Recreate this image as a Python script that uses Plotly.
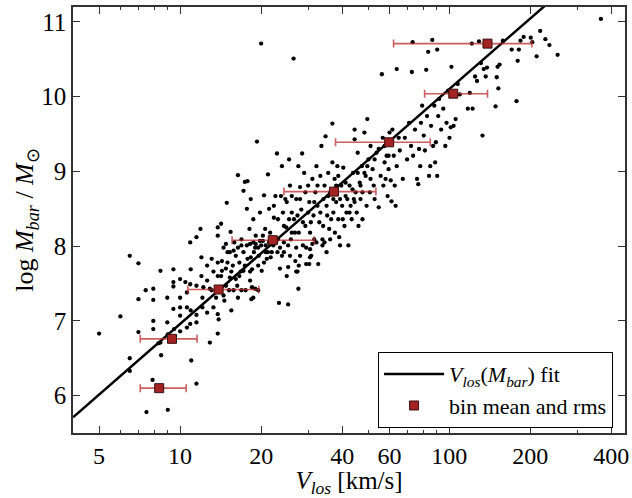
import plotly.graph_objects as go

# galaxies in groups of V_los [km/s] and log M_bar
v_outer = [5.0, 6.0, 6.5, 7.0, 7.0, 7.0, 6.5, 6.5, 7.9, 7.5, 9.0, 11.5, 11.0, 8.5]
m_outer = [6.83, 7.06, 7.87, 7.77, 7.29, 6.85, 6.50, 6.33, 6.21, 5.78, 5.81, 6.16, 6.47, 6.54]

v_low = [7.45, 7.95, 7.95, 7.95, 7.95,
         8.3, 8.45, 8.45, 8.96, 8.96,
         9.0, 9.44, 9.44, 9.44, 9.44,
         9.5, 10.0, 10.0, 10.0, 10.0,
         10.0, 10.46, 10.6, 10.6, 10.6,
         10.9, 10.9, 10.95, 10.95, 10.9]
m_low = [7.41, 7.43, 7.28, 7.0, 6.89,
         6.70, 7.67, 6.71, 7.31, 6.98,
         6.82, 7.69, 7.52, 7.46, 7.16,
         6.89, 7.56, 7.31, 7.18, 7.07,
         6.86, 7.52, 7.38, 7.18, 6.91,
         8.05, 7.49, 7.69, 7.14, 6.96]

v_small = [11.5, 11.5, 11.5, 11.5, 11.9,
           12.0, 12.0, 12.1, 12.1, 12.6,
           12.6, 12.6, 12.9, 13.1, 13.1,
           13.3, 13.3, 13.8, 13.8, 13.8,
           13.8, 13.8, 13.8, 13.9, 14.2,
           14.3, 14.3, 14.6, 14.9, 15.0,
           15.2, 15.3, 15.4, 15.5, 15.7,
           15.9, 16.1, 16.3, 16.4, 16.4]
m_small = [8.12, 7.47, 7.08, 6.98, 8.23,
           7.85, 7.60, 7.18, 7.31, 7.74,
           7.54, 7.11, 6.71, 7.83, 7.41,
           7.66, 7.18, 8.25, 8.14, 7.78,
           7.60, 7.09, 6.83, 7.02, 8.30,
           7.80, 7.67, 7.27, 8.58, 7.92,
           7.41, 7.58, 8.19, 7.14, 7.74,
           8.05, 7.87, 7.47, 8.95, 7.31]

v_mid = [16.8, 16.9, 17.2, 17.4, 17.7,
         17.8, 17.8, 18.1, 18.2, 18.3,
         18.4, 18.7, 18.8, 19.1, 19.3,
         19.5, 19.8, 20.0, 20.1, 20.3,
         20.5, 20.7, 20.8, 21.0, 21.2,
         21.4, 21.6, 21.9, 22.3, 22.6,
         22.9, 23.1, 23.3, 23.5, 23.9,
         24.1, 24.3, 24.6, 24.8, 24.9]
m_mid = [7.66, 8.01, 8.74, 8.86, 8.50,
         8.87, 7.83, 8.23, 7.54, 8.63,
         7.29, 8.36, 7.92, 8.14, 9.40,
         7.74, 8.45, 10.71, 7.67, 8.07,
         8.68, 8.23, 7.92, 7.83, 8.96,
         8.50, 8.18, 7.92, 8.38, 8.67,
         9.24, 8.09, 7.24, 7.70, 9.07,
         8.45, 7.92, 8.63, 8.25, 7.60]

v_upper = [25.2, 25.4, 25.6, 25.8, 26.0,
           26.4, 26.5, 26.8, 27.0, 27.3,
           27.5, 27.5, 27.6, 27.9, 28.2,
           28.4, 28.6, 28.9, 29.2, 29.4,
           29.9, 30.2, 30.4, 30.7, 31.0,
           31.3, 31.5, 31.8, 32.1, 32.4,
           32.6, 32.9, 33.2, 33.5, 33.8,
           34.1, 34.4, 34.7, 35.0, 35.2,
           35.5, 35.8, 36.1]
m_upper = [7.22, 9.16, 8.81, 8.09, 8.45,
           10.51, 8.36, 7.80, 8.63, 7.66,
           9.07, 7.43, 8.18, 8.79, 8.49,
           9.24, 8.01, 8.98, 8.27, 7.76,
           8.81, 8.59, 8.18, 7.87, 8.90,
           8.41, 8.09, 8.72, 9.07, 8.54,
           7.76, 8.32, 8.94, 9.34, 8.09,
           8.63, 8.81, 9.47, 7.92, 8.41,
           8.98, 8.23, 8.72]

v_high = [36.8, 36.8, 37.1, 37.5, 37.6,
          38.0, 38.4, 38.7, 39.0, 39.3,
          39.7, 40.0, 40.4, 40.8, 41.2,
          41.5, 42.2, 42.6, 43.0, 43.4,
          43.9, 44.2, 44.5, 44.5, 44.9,
          45.3, 45.7, 46.0, 46.5, 46.8,
          47.3, 47.6, 48.4, 48.9, 49.3,
          49.6, 50.1, 50.7]
m_high = [9.64, 9.12, 8.45, 8.90, 8.18,
          8.59, 9.07, 8.36, 8.12, 8.01,
          8.81, 8.54, 9.05, 8.27, 8.67,
          8.45, 8.01, 8.81, 8.54, 8.36,
          8.98, 8.63, 9.56, 9.43, 8.72,
          8.45, 9.25, 8.27, 8.85, 8.63,
          9.07, 8.36, 9.52, 8.94, 8.54,
          9.70, 9.16, 8.72]

v_big = [51.0, 51.9, 52.4, 52.8, 53.7,
         54.7, 55.6, 56.2, 56.6, 56.9,
         57.5, 58.0, 58.5, 59.0, 59.5,
         60.0, 60.6, 61.0, 61.5, 62.2,
         62.7, 63.2, 63.8, 63.8, 64.9,
         65.5, 67.2, 68.4, 69.7, 70.9,
         72.1, 72.6, 73.1, 73.4, 74.6,
         75.9, 76.7, 77.2, 78.0, 78.5,
         79.3, 80.4, 81.2, 82.1, 82.7,
         83.5, 84.1, 85.0, 85.6, 86.5,
         87.1, 88.0, 88.6, 89.2, 90.2,
         90.2, 91.0, 91.7, 93.3, 95.0]
m_big = [9.34, 9.03, 8.81, 8.63, 9.25,
         8.52, 8.94, 10.30, 9.45, 8.81,
         9.12, 8.90, 9.21, 8.67, 9.03,
         9.52, 8.88, 8.60, 9.56, 9.21,
         8.81, 8.54, 10.37, 9.07, 9.45,
         9.28, 8.90, 9.45, 9.16, 9.65,
         9.34, 10.33, 10.73, 9.21, 9.56,
         8.90, 8.83, 9.30, 9.07, 9.65,
         9.88, 9.48, 9.28, 10.36, 9.74,
         10.60, 8.94, 9.07, 9.61, 10.76,
         9.34, 9.88, 9.12, 9.39, 10.63,
         8.94, 9.74, 9.97, 9.56, 9.84]

v_giant = [96.7, 97.7, 99.1, 100.2, 101.3,
           101.9, 103.8, 105.6, 107.5, 109.4,
           117.2, 119.2, 121.3, 122.1, 124.7,
           126.8, 129.0, 131.1, 132.9, 134.3,
           136.6, 138.1, 148.6, 150.1, 151.2,
           152.2, 153.8, 158.2, 170.6, 177.8,
           179.6, 181.4, 183.9, 189.0, 200.8,
           203.5, 211.2, 217.7, 227.6, 235.6,
           252.7, 366.0]
m_giant = [9.34, 9.65, 10.08, 9.45, 9.59,
           10.40, 9.61, 9.70, 10.17, 10.03,
           9.84, 10.05, 10.71, 9.84, 10.27,
           10.21, 10.74, 10.45, 9.48, 10.37,
           10.27, 10.39, 9.87, 10.26, 10.40,
           10.11, 10.43, 10.75, 10.63, 9.94,
           10.48, 10.63, 10.75, 10.80, 10.79,
           10.73, 10.54, 10.88, 10.77, 10.69,
           10.56, 11.04]

v_core = [14.5, 14.8, 15.0, 15.3, 15.8,
          16.4, 16.6, 16.9, 17.2, 17.4,
          17.7, 18.2, 18.3, 18.5, 18.7,
          19.0, 19.1, 19.5, 19.6, 19.8,
          20.0, 20.3, 20.5, 20.8, 21.2,
          21.4, 21.7, 22.2, 22.7, 23.0,
          23.5, 23.9, 24.3, 25.2, 25.6,
          26.0, 27.0, 27.9, 29.4, 30.4,
          31.0, 32.1, 33.8, 34.4, 36.1]
m_core = [7.98, 8.03, 7.78, 7.92, 7.94,
          7.98, 7.78, 8.09, 7.92, 7.74,
          8.01, 8.03, 7.85, 7.69, 8.05,
          7.98, 8.03, 7.98, 7.87, 8.07,
          8.01, 8.14, 7.78, 8.01, 7.92,
          8.05, 7.85, 8.01, 8.05, 7.92,
          7.98, 7.87, 8.05, 8.01, 7.87,
          8.18, 7.98, 7.87, 7.98, 7.85,
          8.03, 8.05, 8.01, 8.05, 8.09]

v_band = [22.3, 23.1, 23.7, 24.3, 24.9,
          25.4, 26.0, 26.7, 27.3, 27.9,
          28.6, 29.2, 29.9, 30.6, 31.5,
          32.4, 33.2, 34.0, 35.0, 35.5,
          36.4, 37.1, 38.0, 38.7, 39.3,
          40.2, 41.2, 41.8, 42.6, 43.7,
          44.5, 45.7, 46.8, 47.6, 48.4,
          49.6, 51.0, 52.8, 54.7, 57.5,
          59.5]
m_band = [8.54, 8.36, 8.67, 8.27, 8.59,
          8.36, 8.67, 8.18, 8.41, 8.63,
          8.32, 8.72, 8.45, 8.32, 8.59,
          8.81, 8.45, 8.27, 8.54, 8.67,
          8.36, 8.63, 8.81, 8.94, 8.63,
          8.36, 8.85, 8.63, 8.45, 8.76,
          8.59, 8.98, 8.81, 8.72, 8.98,
          9.07, 8.90, 9.16, 9.30, 9.34,
          9.21]

v_faint = [12.2, 12.9, 13.6, 14.0, 14.5,
           14.8, 15.8, 16.9, 17.5, 18.5,
           18.7, 19.0, 19.5, 15.5, 16.1,
           16.6, 17.2, 18.2, 14.8, 14.2,
           27.0, 27.6, 30.2, 30.4, 25.2]
m_faint = [7.45, 7.43, 7.31, 7.43, 7.34,
           7.47, 7.41, 7.41, 7.41, 7.45,
           7.31, 7.43, 7.41, 7.66, 7.56,
           7.60, 7.67, 7.66, 7.70, 7.60,
           7.66, 7.74, 7.76, 7.96, 7.72]

# fit line V_los(M_bar)
fit_v = [4.0, 10.0, 100.0, 250.0]
fit_logm = [5.71, 6.96, 10.10, 11.35]

# binned means with rms range in V_los
bin_v = [8.36, 9.33, 13.9, 22.1, 37.3, 59.8, 103.5, 138.7]
bin_logm = [6.10, 6.76, 7.42, 8.08, 8.73, 9.39, 10.04, 10.71]
bin_v_lo = [7.11, 7.11, 10.68, 15.6, 24.3, 37.8, 81.0, 62.1]
bin_v_hi = [10.53, 11.56, 19.6, 31.5, 53.4, 85.0, 138.7, 202.7]

all_v = v_outer + v_low + v_small + v_mid + v_upper + v_high + v_big + v_giant + v_core + v_band + v_faint
all_m = m_outer + m_low + m_small + m_mid + m_upper + m_high + m_big + m_giant + m_core + m_band + m_faint

err_plus = [hi - v for hi, v in zip(bin_v_hi, bin_v)]
err_minus = [v - lo for lo, v in zip(bin_v_lo, bin_v)]

FONT = "Liberation Serif"

fig = go.Figure()
fig.add_trace(go.Scatter(x=all_v, y=all_m, mode='markers', showlegend=False,
                         marker=dict(color='black', size=4.3)))
fig.add_trace(go.Scatter(x=fit_v, y=fit_logm, mode='lines',
                         name='<i>V</i><sub><i>los</i></sub>(<i>M</i><sub><i>bar</i></sub>) fit',
                         line=dict(color='black', width=2.5)))
fig.add_trace(go.Scatter(x=bin_v, y=bin_logm, mode='markers', name='bin mean and rms',
                         marker=dict(symbol='square', size=9, color='#a32222',
                                     line=dict(color='#3a1010', width=1)),
                         error_x=dict(type='data', symmetric=False, array=err_plus,
                                      arrayminus=err_minus, color='rgba(185,40,40,0.75)',
                                      thickness=1.6, width=4)))

fig.update_layout(
    width=632, height=498,
    margin=dict(l=73, r=7, t=7, b=65),
    paper_bgcolor='white', plot_bgcolor='white',
    font=dict(family=FONT, size=25, color='black'),
    legend=dict(x=0.978, y=0.012, xanchor='right', yanchor='bottom',
                bgcolor='white', bordercolor='black', borderwidth=1.2,
                itemwidth=60, font=dict(family=FONT, size=22), tracegroupgap=0),
)

fig.update_xaxes(type='log', range=[0.602, 2.653], automargin=False,
                 tickmode='array', tickvals=[5, 10, 20, 40, 60, 100, 200, 400],
                 ticktext=['5', '10', '20', '40', '60', '100', '200', '400'],
                 tickfont=dict(size=24),
                 ticks='inside', ticklen=7, tickwidth=1, tickcolor='#333',
                 minor=dict(tickmode='array', tickvals=[6, 7, 8, 9, 30, 50, 70, 80, 90, 300],
                            ticks='inside', ticklen=3.5, tickcolor='#333'),
                 showline=True, linecolor='#333', linewidth=1.5, mirror='allticks',
                 showgrid=False, zeroline=False,
                 title=dict(text='<i>V</i><sub><i>los</i></sub> [km/s]', standoff=0,
                            font=dict(family=FONT, size=25)))
fig.update_yaxes(range=[5.5, 11.2], tickvals=[6, 7, 8, 9, 10, 11], automargin=False,
                 ticks='inside', ticklen=7, tickwidth=1, tickcolor='#333',
                 showline=True, linecolor='#333', linewidth=1.5, mirror='allticks',
                 showgrid=False, zeroline=False,
                 title=dict(text='log <i>M</i><sub><i>bar</i></sub> / <i>M</i><sub>⊙</sub>', standoff=0,
                            font=dict(family=FONT, size=26)))

# the page body has a default 8px margin; drop it so the figure fills the window
fig.write_html("out.html", config={'displayModeBar': False},
               post_script="document.body.style.margin='0px';")
